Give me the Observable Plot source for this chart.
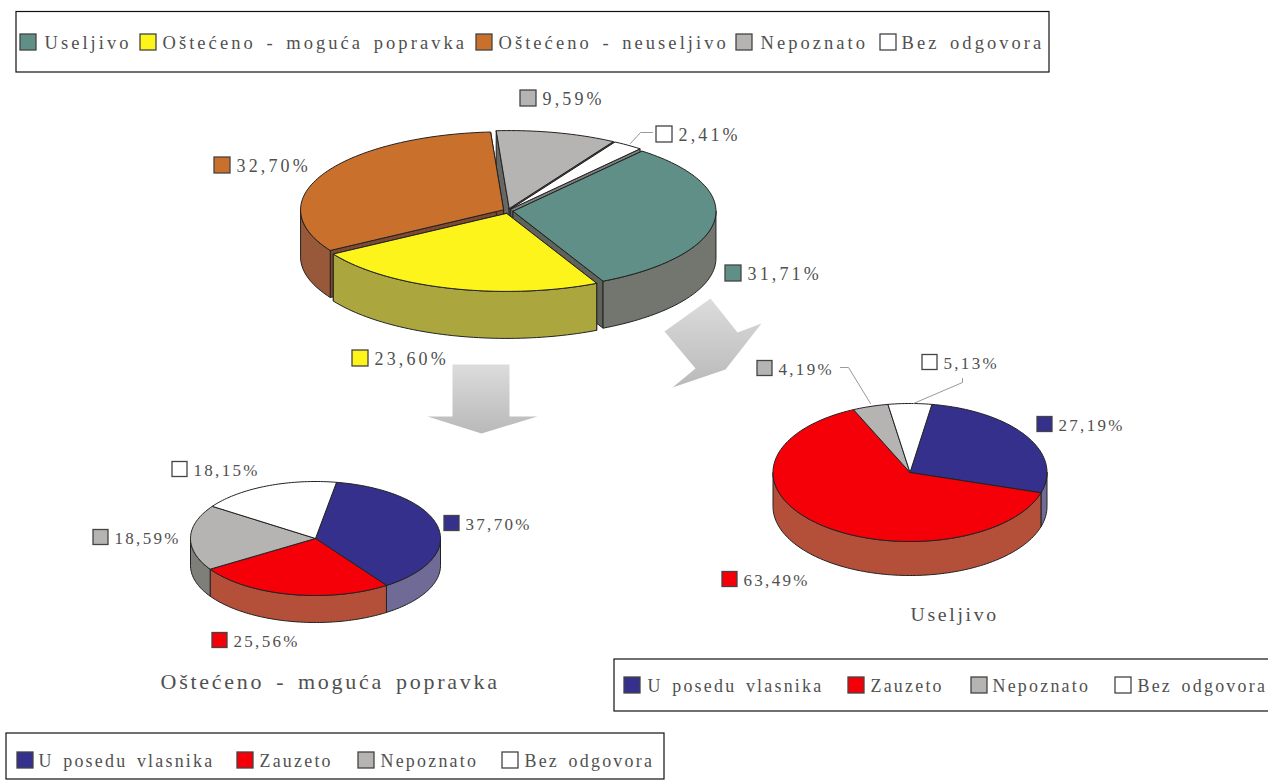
<!DOCTYPE html>
<html><head><meta charset="utf-8">
<script src="https://cdn.jsdelivr.net/npm/d3@7"></script>
<script src="https://cdn.jsdelivr.net/npm/@observablehq/plot@0.6"></script>
<style>
html,body{margin:0;padding:0;background:#fff;overflow:hidden}
svg{display:block}
text{letter-spacing:.135em;word-spacing:.22em}
g[font-size="18.5"] text{letter-spacing:.165em;word-spacing:.16em}
g[font-size="18"] text{letter-spacing:.175em}
g[font-size="17.9"] text{letter-spacing:.125em;word-spacing:.16em}
g[font-size="22"] text{letter-spacing:.125em;word-spacing:.16em}
</style></head><body>
<script>
// ---- data ----
const statusCategories = ["Useljivo","Oštećeno - moguća popravka","Oštećeno - neuseljivo","Nepoznato","Bez odgovora"];
const statusValues = [31.71,23.60,32.70,9.59,2.41];
const occupancyCategories = ["U posedu vlasnika","Zauzeto","Nepoznato","Bez odgovora"];
const repairableValues = [37.70,25.56,18.59,18.15];
const habitableValues = [27.19,63.49,4.19,5.13];
const repairableTitle = "Oštećeno - moguća popravka";
const habitableTitle = "Useljivo";

// ---- styles ----
const statusTop  = ["#5f8f86","#fdf41c","#c8702c","#b6b3b3","#ffffff"];
const statusSide = ["#72766e","#aca63f","#98593b","#7b7b76","#ffffff"];
const occTop  = ["#35308c","#f50008","#b6b3b3","#ffffff"];
const occSide = ["#6f6a96","#b4503a","#7f7f7a","#ffffff"];
const ink = "#505050", edge = "#222";
const serif = "Liberation Serif";

// ---- layout (pie geometry, swatch and label anchors) ----
const pieA = {cx:507.5,cy:210.5,rx:203,ry:78,depth:47,start:50.5,explode:5,top:statusTop,side:statusSide};
const pieB = {cx:315,cy:538,rx:125,ry:57,depth:27,start:80.3,explode:0,top:occTop,side:occSide};
const pieC = {cx:909.5,cy:472,rx:137,ry:69,depth:34,start:80.8,explode:0,top:occTop,side:occSide};
const labelsA = [[725,273],[352,358],[214,165],[520,98],[656,134]];
const labelsB = [[444,523],[212,640],[93,537],[172,469]];
const labelsC = [[1037,424],[722,579],[757,368],[922,362]];
const swatchA = 16, swatchB = 15;

function slices(values, p) {
  let a = p.start;
  return values.map((v, i) => {
    const a0 = a, a1 = a - v * 3.6; a = a1;
    const mid = (a0 + a1) / 2 * Math.PI / 180;
    const cx = p.cx + p.explode * Math.cos(mid), cy = p.cy - p.explode * 0.5 * Math.sin(mid);
    return {i, a0, a1, cx, cy};
  });
}
const pt = (s, p, deg, dz = 0) => {
  const r = deg * Math.PI / 180;
  return {x: s.cx + p.rx * Math.cos(r), y: s.cy - p.ry * Math.sin(r) + dz};
};
function arc(s, p, from, to, dz = 0) {
  const n = Math.max(2, Math.ceil(Math.abs(from - to) / 1.5)), out = [];
  for (let k = 0; k <= n; k++) out.push(pt(s, p, from + (to - from) * k / n, dz));
  return out;
}
function piePolys(values, p) {
  const polys = [];
  const ss = slices(values, p).sort((u, v) => u.cy - v.cy);
  for (const s of ss) {
    const side = p.side[s.i], top = p.top[s.i], centre = {x:s.cx,y:s.cy}, low = {x:s.cx,y:s.cy+p.depth};
    if (p.explode) for (const a of [s.a0, s.a1]) {
      const o = pt(s,p,a), ob = pt(s,p,a,p.depth);
      polys.push({pts:[centre,o,ob,low,centre],fill:d3.color(side === "#ffffff" ? "#999" : side).darker(.5).formatHex()});
    }
    for (const [lo, hi] of [[-180,0],[-540,-360]]) {
      const from = Math.min(s.a0, hi), to = Math.max(s.a1, lo);
      if (from > to) {
        const up = arc(s,p,from,to), dn = arc(s,p,to,from,p.depth);
        polys.push({pts:[...up,...dn,up[0]],fill:side});
      }
    }
    polys.push({pts:[centre,...arc(s,p,s.a0,s.a1),centre],fill:top});
  }
  return polys;
}
const comma = v => v.toFixed(2).replace(".", ",") + "%";

const polyMark = q => Plot.line(q.pts,{x:"x",y:"y",fill:q.fill,stroke:q.stroke ?? edge,strokeWidth:q.sw ?? 1,strokeLinejoin:"round",curve:"linear"});
const box = (x1,y1,x2,y2) => Plot.rect([{x1,y1,x2,y2}],{x1:"x1",x2:"x2",y1:"y1",y2:"y2",fill:"white",stroke:"#111",strokeWidth:1.2});
const swatches = (items, size) => Plot.rect(items.map(d=>({x1:d.x,x2:d.x+size,y1:d.y-size/2,y2:d.y+size/2,fill:d.fill})),
  {x1:"x1",x2:"x2",y1:"y1",y2:"y2",fill:"fill",stroke:"#444",strokeWidth:1.3});
const texts = (items, fontSize) => Plot.text(items,{x:"x",y:"y",dy:1,text:"t",textAnchor:"start",fontSize,fontFamily:serif,fill:ink});

function valueLabels(values, anchors, colours, size, fontSize) {
  const it = values.map((v,i)=>({x:anchors[i][0],y:anchors[i][1],fill:colours[i]}));
  return [swatches(it,size), texts(values.map((v,i)=>({x:anchors[i][0]+size+6,y:anchors[i][1],t:comma(v)})),fontSize)];
}
function legend(cats, colours, sx, tx, y, size, fontSize) {
  const it = cats.map((c,i)=>({x:sx[i],y,fill:colours[i]}));
  return [swatches(it,size), texts(cats.map((c,i)=>({x:tx[i],y,t:c})),fontSize)];
}
const leader = pts => Plot.line(pts.map(([x,y])=>({x,y})),{x:"x",y:"y",stroke:"#999",strokeWidth:1});

const arrowDown = [[452,364],[509,364],[509,416],[537,416],[481,433],[427,416],[452,416],[452,364]].map(([x,y])=>({x,y}));
const arrowSide = [[710,298],[737,332],[761,323],[725,369],[672,387],[695,368],[664,331],[710,298]].map(([x,y])=>({x,y}));
const gradient = () => {
  const s = d3.create("svg:defs");
  const g = s.append("linearGradient").attr("id","arrowFill").attr("x1",0).attr("x2",0).attr("y1",0).attr("y2",1);
  g.append("stop").attr("offset",0).attr("stop-color","#dcdcdc");
  g.append("stop").attr("offset",1).attr("stop-color","#b9b9b9");
  return s.node();
};

const chart = Plot.plot({
  width:1268,height:780,margin:0,
  x:{domain:[0,1268],range:[0,1268],axis:null},
  y:{domain:[0,780],range:[0,780],axis:null},
  color:{type:"identity"},
  marks:[
    gradient,
    Plot.line(arrowDown,{x:"x",y:"y",fill:"url(#arrowFill)"}),
    Plot.line(arrowSide,{x:"x",y:"y",fill:"url(#arrowFill)"}),
    ...piePolys(statusValues,pieA).map(polyMark),
    ...piePolys(repairableValues,pieB).map(polyMark),
    ...piePolys(habitableValues,pieC).map(polyMark),
    leader([[652,132],[640,132],[630,143]]),
    leader([[840,367],[848,367],[870,403]]),
    leader([[962,378],[962,382],[913,403]]),
    ...valueLabels(statusValues,labelsA,statusTop,swatchA,18),
    ...valueLabels(repairableValues,labelsB,occTop,swatchB,17),
    ...valueLabels(habitableValues,labelsC,occTop,swatchB,17),
    texts([{x:160,y:680,t:repairableTitle}],22),
    texts([{x:910,y:613,t:habitableTitle}],19.8),
    box(16,11.5,1049,72),
    ...legend(statusCategories,statusTop,[20,140,476,736,880],[44,162,498,760,901],42,16,18.5),
    box(614,659,1275,711),
    ...legend(occupancyCategories,occTop,[624,848,971,1115],[647,870,992,1137],685,16,17.9),
    box(6,733,664,779),
    ...legend(occupancyCategories,occTop,[17,237,358,502],[38,259,380,524],760,16,17.9)
  ]
});
document.body.append(chart);
</script>
</body></html>
